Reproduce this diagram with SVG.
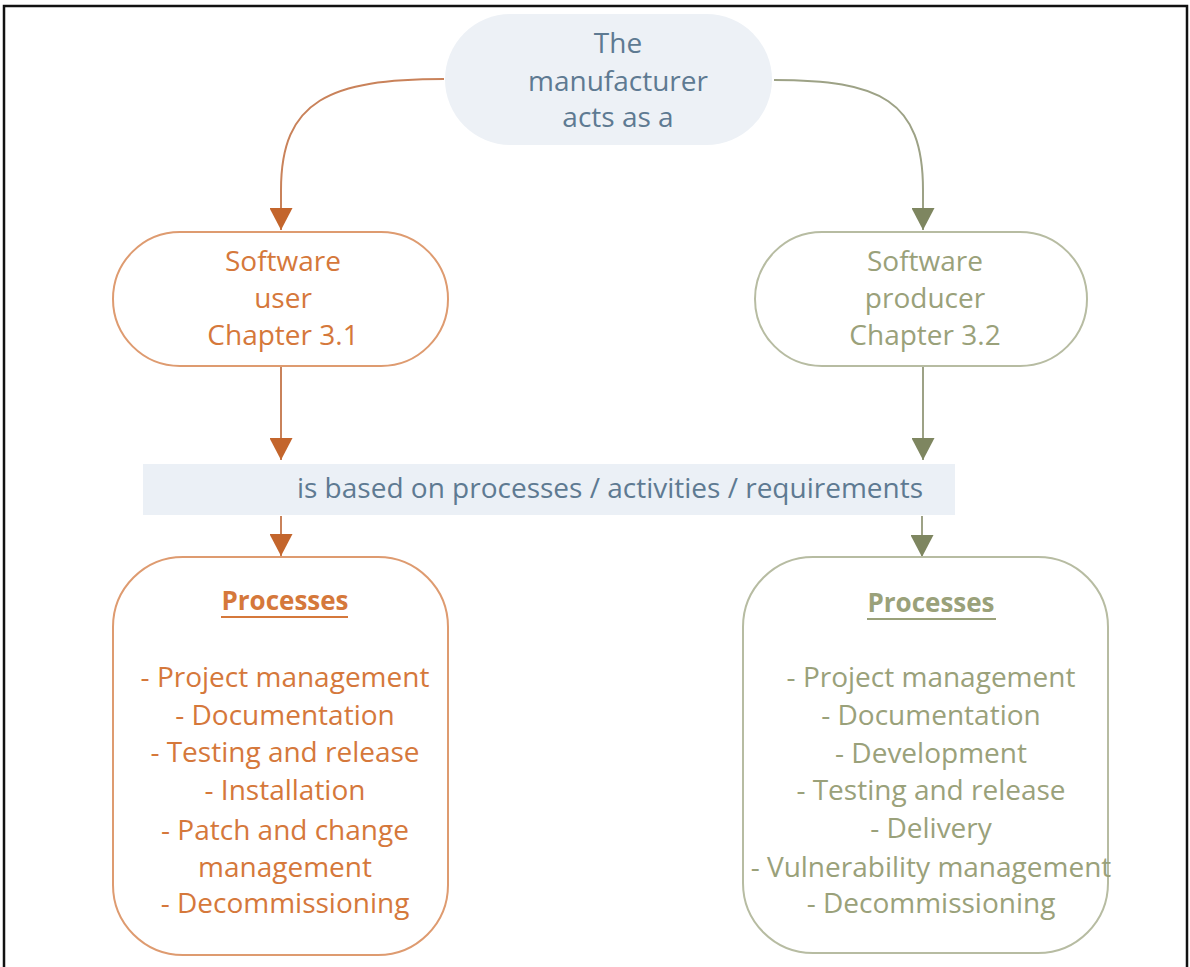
<svg xmlns="http://www.w3.org/2000/svg" width="1190" height="967" viewBox="0 0 1190 967">
<style>
text{font-family:"Open Sans","Noto Sans",sans-serif;font-size:28px;text-anchor:middle}
.blue{fill:#5E7A92}
.or{fill:#D5783B}
.gr{fill:#9AA17A}
.orb{fill:#fff;stroke:#DE9B70;stroke-width:2}
.grb{fill:#fff;stroke:#B7BCA2;stroke-width:2}
.orl{fill:none;stroke:#C9825A;stroke-width:2}
.grl{fill:none;stroke:#9DA286;stroke-width:2}
.bold{font-weight:bold;font-size:26px}
</style>
<defs>
<marker id="ao" markerWidth="23" markerHeight="22" refX="11.5" refY="22" orient="0" markerUnits="userSpaceOnUse"><path d="M0,0 L23,0 L11.5,22 Z" fill="#C3652C"/></marker>
<marker id="ag" markerWidth="23" markerHeight="22" refX="11.5" refY="22" orient="0" markerUnits="userSpaceOnUse"><path d="M0,0 L23,0 L11.5,22 Z" fill="#7E8660"/></marker>
</defs>
<rect width="1190" height="967" fill="#fff"/>
<path d="M4,967 V6 H1187 V967" fill="none" stroke="#111" stroke-width="2.5"/>

<g id="connectors">
<path class="orl" d="M444,79 C330,79 281,100 281,190 V230" marker-end="url(#ao)"/>
<path class="grl" d="M774,80 C880,80 923,100 923,190 V230" marker-end="url(#ag)"/>
<path class="orl" d="M281,366 V460" marker-end="url(#ao)"/>
<path class="grl" d="M923,366 V460" marker-end="url(#ag)"/>
<path class="orl" d="M281,516 V556" marker-end="url(#ao)"/>
<path class="grl" d="M922,516 V557" marker-end="url(#ag)"/>
</g>

<g id="manufacturer">
<rect x="445" y="14" width="327" height="131" rx="65.5" fill="#EDF1F6"/>
<text class="blue" x="618" y="53">The</text>
<text class="blue" x="618" y="91">manufacturer</text>
<text class="blue" x="618" y="127">acts as a</text>
</g>

<g id="software-user">
<rect class="orb" x="113" y="232" width="335" height="134" rx="67"/>
<text class="or" x="283" y="271">Software</text>
<text class="or" x="283" y="308">user</text>
<text class="or" x="283" y="345">Chapter 3.1</text>
</g>

<g id="software-producer">
<rect class="grb" x="755" y="232" width="332" height="134" rx="67"/>
<text class="gr" x="925" y="271">Software</text>
<text class="gr" x="925" y="308">producer</text>
<text class="gr" x="925" y="345">Chapter 3.2</text>
</g>

<g id="basis">
<rect x="143" y="464" width="812" height="51" fill="#EBF0F6"/>
<text class="blue" x="610" y="498">is based on processes / activities / requirements</text>
</g>

<g id="user-processes">
<rect class="orb" x="113" y="557" width="335" height="398" rx="70"/>
<text class="or bold" x="285" y="610">Processes</text>
<line x1="221" y1="617" x2="348" y2="617" stroke="#D5783B" stroke-width="2"/>
<text class="or" x="285" y="687">- Project management</text>
<text class="or" x="285" y="725">- Documentation</text>
<text class="or" x="285" y="762">- Testing and release</text>
<text class="or" x="285" y="800">- Installation</text>
<text class="or" x="285" y="840">- Patch and change</text>
<text class="or" x="285" y="877">management</text>
<text class="or" x="285" y="913">- Decommissioning</text>
</g>

<g id="producer-processes">
<rect class="grb" x="743" y="557" width="365" height="396" rx="70"/>
<text class="gr bold" x="931" y="612">Processes</text>
<line x1="867" y1="619" x2="996" y2="619" stroke="#9AA17A" stroke-width="2"/>
<text class="gr" x="931" y="687">- Project management</text>
<text class="gr" x="931" y="725">- Documentation</text>
<text class="gr" x="931" y="763">- Development</text>
<text class="gr" x="931" y="800">- Testing and release</text>
<text class="gr" x="931" y="838">- Delivery</text>
<text class="gr" x="931" y="877">- Vulnerability management</text>
<text class="gr" x="931" y="913">- Decommissioning</text>
</g>
</svg>
